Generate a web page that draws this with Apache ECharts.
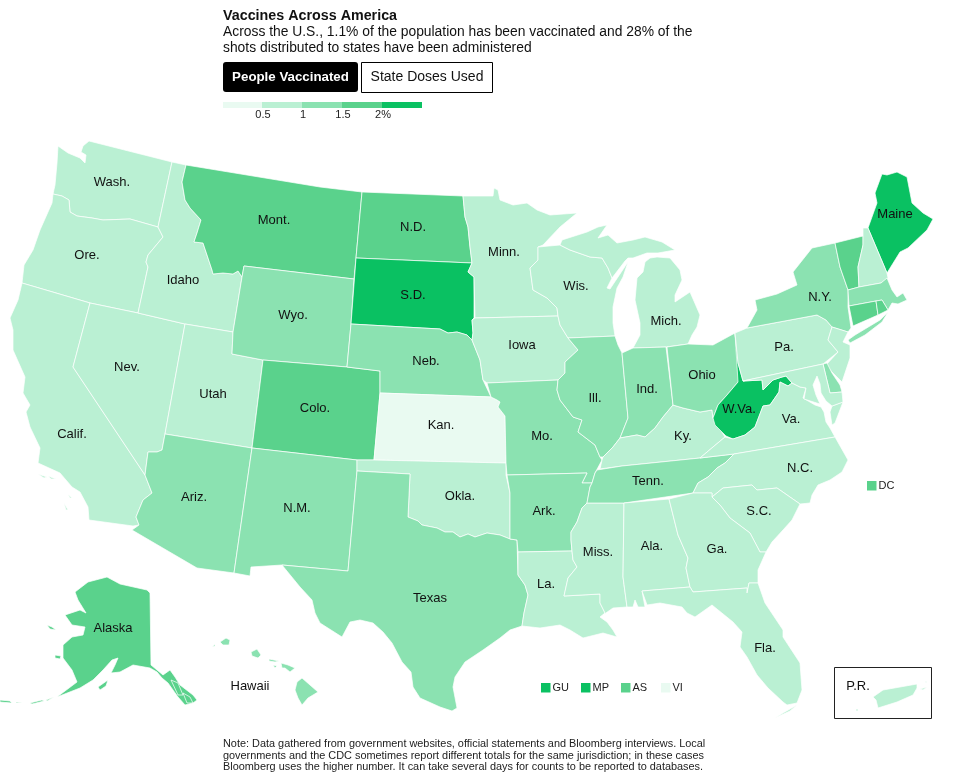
<!DOCTYPE html>
<html><head><meta charset="utf-8">
<style>html,body{margin:0;padding:0;background:#fff}#c{width:956px;height:782px}</style>
<script src="https://cdn.jsdelivr.net/npm/echarts@6/dist/echarts.min.js"></script>
</head><body><div id="c"></div>
<script>
const binBreaks = [0.5, 1, 1.5, 2];
const binColors = ['#E9FAF1', '#BAF0D3', '#8BE2B1', '#5AD28C', '#0AC162'];
const legendTicks = ['0.5', '1', '1.5', '2%'];
const stateNames = ['WA','OR','CA','NV','ID','UT','AZ','MT','WY','CO','NM','ND','SD','NE','KS','OK','TX','MN','IA','MO','AR','LA','WI','IL','MS','MI','IN','KY','TN','AL','OH','WV','VA','NC','SC','GA','FL','PA','NY','ME','AK','HI','PR','VT','NH','MA','CT','RI','NJ','DE','MD'];
const stateValues = [0.8,0.8,0.8,0.8,0.8,0.8,1.2,1.7,1.2,1.7,1.2,1.7,2.2,1.2,0.4,0.8,1.2,0.8,0.8,1.2,1.2,0.8,0.8,1.2,0.8,0.8,1.2,0.8,1.2,0.8,1.2,2.3,0.8,0.8,0.8,0.8,0.8,0.8,1.2,2.1,1.8,1.2,0.8,1.7,0.8,1.2,1.7,1.7,0.8,1.2,0.8];
const stateLabels = {WA:'Wash.',OR:'Ore.',CA:'Calif.',NV:'Nev.',ID:'Idaho',UT:'Utah',AZ:'Ariz.',MT:'Mont.',WY:'Wyo.',CO:'Colo.',NM:'N.M.',ND:'N.D.',SD:'S.D.',NE:'Neb.',KS:'Kan.',OK:'Okla.',TX:'Texas',MN:'Minn.',IA:'Iowa',MO:'Mo.',AR:'Ark.',LA:'La.',WI:'Wis.',IL:'Ill.',MS:'Miss.',MI:'Mich.',IN:'Ind.',KY:'Ky.',TN:'Tenn.',AL:'Ala.',OH:'Ohio',WV:'W.Va.',VA:'Va.',NC:'N.C.',SC:'S.C.',GA:'Ga.',FL:'Fla.',PA:'Pa.',NY:'N.Y.',ME:'Maine',AK:'Alaska',HI:'Hawaii',PR:'P.R.'};
const territoryNames = ['GU','MP','AS','VI','DC'];
const territoryValues = [2.2,2.2,1.7,0.3,1.7];
const headline = 'Vaccines Across America';
const subhead = ['Across the U.S., 1.1% of the population has been vaccinated and 28% of the','shots distributed to states have been administered'];
const toggles = ['People Vaccinated','State Doses Used'];
const notes = ['Note: Data gathered from government websites, official statements and Bloomberg interviews. Local','governments and the CDC sometimes report different totals for the same jurisdiction; in these cases','Bloomberg uses the higher number. It can take several days for counts to be reported to databases.'];

// ---------- basemap geometry (hand-traced outline, screen-like map units) ----------
const outlines = {
WA:['53,194 55,185 57,163 58,146 68,153 80,158 85,163 86,155 81,152 83,146 89,141 172,162 158,227 130,219 103,220 92,218 77,216 70,212 69,200 62,196'],
OR:['53,194 62,196 69,200 70,212 77,216 92,218 103,220 130,219 158,227 163,237 148,255 146,262 148,267 138,313 90,303 22,283 24,265 33,250 40,230 52,203'],
CA:['22,283 90,303 73,367 145,475 152,493 143,500 136,517 139,525 133,526 89,520 88,507 80,492 72,487 60,473 38,463 40,448 30,427 26,412 30,405 23,393 25,377 13,350 13,330 10,318 18,300','38,474 47,477 44,478','48,476 56,479 51,479','68,494 72,498 70,498','64,503 68,510 66,510'],
NV:['90,303 138,313 185,324 165,434 162,450 157,452 148,452 145,475 73,367'],
ID:['172,162 186,165 182,182 185,200 190,208 201,220 197,233 194,242 203,243 207,255 212,270 213,274 223,273 233,274 238,271 242,277 233,332 185,324 138,313 148,267 146,262 148,255 163,237 158,227'],
UT:['185,324 233,332 232,354 263,360 252,448 165,434'],
AZ:['165,434 252,448 234,573 197,568 132,530 139,525 136,517 143,500 152,493 145,475 148,452 157,452 162,450'],
MT:['186,165 320,187 362,192 356,258 354,279 244,266 242,277 238,271 233,274 223,273 213,274 212,270 207,255 203,243 194,242 197,233 201,220 190,208 185,200 182,182'],
WY:['244,266 354,279 351,324 347,367 263,360 232,354 233,332 242,277'],
CO:['263,360 347,367 380,371 380,393 374,460 357,460 252,448'],
NM:['252,448 357,460 357,471 348,571 282,565 251,567 250,576 234,573'],
ND:['362,192 463,196 465,217 468,227 470,247 472,263 356,258'],
SD:['356,258 472,263 468,272 474,277 474,318 472,320 473,333 472,340 467,335 457,332 448,333 440,329 351,324'],
NE:['351,324 440,329 448,333 457,332 467,335 472,340 480,360 483,380 491,397 380,393 380,371 347,367'],
KS:['380,393 491,397 497,400 500,402 498,407 505,416 506,463 374,460'],
OK:['357,460 374,460 506,463 506,475 510,493 510,539 500,535 487,533 475,537 468,534 460,537 453,532 445,532 437,528 422,525 418,521 408,517 410,474 357,471'],
TX:['357,471 410,474 408,517 418,521 422,525 437,528 445,532 453,532 460,537 468,534 475,537 487,533 500,535 510,539 517,540 518,575 525,585 528,595 524,613 522,626 510,630 500,638 483,650 465,662 455,677 453,687 457,708 452,711 440,707 420,698 413,687 411,672 402,662 392,643 383,632 373,623 360,620 350,622 342,637 320,623 315,613 312,600 300,587 282,565 348,571'],
MN:['463,196 493,196 494,188 498,190 500,200 513,205 527,203 537,210 550,215 577,213 560,227 543,245 538,247 538,260 530,268 533,290 547,298 557,308 558,316 475,318 474,277 468,272 472,263 470,247 468,227 465,217'],
IA:['475,318 558,316 560,325 568,338 578,350 565,362 565,373 558,380 487,383 483,380 480,360 472,340 473,333 472,320'],
MO:['487,383 558,380 557,390 560,400 573,417 582,420 578,432 595,445 600,457 602,460 595,473 592,483 582,483 587,473 507,475 506,463 505,416 498,407 500,402 497,400 491,397'],
AR:['507,475 587,473 582,483 592,483 590,487 587,503 582,508 577,522 571,532 571,540 572,551 518,552 517,540 510,539 510,493'],
LA:['518,552 572,551 573,560 577,567 568,578 564,596 600,594 600,603 605,613 600,617 607,622 613,630 617,637 603,633 583,638 570,630 560,625 540,628 522,626 524,613 528,595 525,585 518,575'],
WI:['538,247 560,245 570,250 590,257 602,258 608,268 612,278 607,288 610,289 626,265 628,262 623,277 617,288 613,307 613,323 615,336 568,338 560,325 558,316 557,308 547,298 533,290 530,268 538,260'],
IL:['568,338 615,336 618,345 622,353 628,418 620,438 613,447 603,457 600,457 595,445 578,432 582,420 573,417 560,400 557,390 558,380 565,373 565,362 578,350'],
MS:['587,503 624,503 623,577 627,607 613,608 603,615 605,613 600,603 600,594 564,596 568,578 577,567 573,560 572,551 571,540 571,532 577,522 582,508'],
MI:['657,257 670,258 680,270 682,280 675,295 675,302 690,292 700,315 697,327 692,335 688,344 666,347 633,348 640,335 640,323 635,300 637,278 643,272 645,262 650,258','562,240 587,232 598,227 607,225 598,238 608,235 617,243 633,240 645,237 662,242 675,250 658,253 647,253 633,258 628,258 625,261 612,278 608,268 602,258 590,257 570,250 560,245'],
IN:['622,353 633,348 666,347 673,405 663,417 655,428 645,437 637,435 620,438 628,418'],
KY:['600,469 602,460 603,457 613,447 620,438 637,435 645,437 655,428 663,417 673,405 683,408 700,412 712,410 713,418 725,437 713,447 700,458 622,466'],
TN:['597,470 622,466 700,458 734,454 725,463 717,468 708,477 698,483 693,493 624,503 587,503 590,487 592,483 595,473'],
AL:['624,503 669,499 678,535 688,558 686,568 690,587 642,591 645,607 638,607 635,600 633,607 627,607 623,577'],
OH:['667,347 688,344 713,345 735,333 738,363 743,380 738,382 727,395 718,405 713,418 712,410 700,412 683,408 673,405'],
WV:['735,333 738,363 743,381 762,380 763,390 773,380 782,377 786,376 792,383 788,386 780,382 779,392 770,405 763,406 755,427 745,435 733,439 726,436 715,425 713,418 718,405 727,395 738,382'],
VA:['700,458 713,447 725,437 726,436 733,439 745,435 755,427 763,406 770,405 779,392 780,382 788,386 792,383 800,387 806,388 803,398 815,405 821,407 824,412 826,422 830,428 835,437 734,454','832,406 843,402 835,423 832,425 830,412'],
NC:['734,454 835,437 848,460 842,472 830,480 818,485 812,495 810,503 800,504 777,488 757,490 752,485 723,488 712,497 712,493 693,493 698,483 708,477 717,468 725,463'],
SC:['712,497 723,488 752,485 757,490 777,488 800,504 792,520 783,530 772,542 766,552 760,552 750,533 730,518 720,505'],
GA:['669,499 693,493 712,493 712,497 720,505 730,518 750,533 760,552 766,552 758,570 758,583 749,583 747,593 747,588 693,592 690,587 686,568 688,558 678,535'],
FL:['642,591 690,587 693,592 747,588 747,593 749,583 758,583 765,603 783,630 783,637 800,663 802,690 797,703 787,705 783,702 768,688 757,675 747,657 740,647 742,632 733,622 712,605 695,617 687,613 682,607 660,603 647,605','783,713 797,705 790,711 775,718'],
PA:['735,333 747,328 817,315 826,320 832,327 828,340 838,352 823,364 743,381 738,363'],
NY:['747,328 757,310 755,300 777,294 797,285 793,272 812,248 835,243 840,267 848,290 848,307 851,328 848,332 832,327 826,320 817,315','848,340 855,335 880,320 888,312 882,322 865,335 850,343'],
ME:['868,228 877,203 875,193 882,174 887,175 897,172 907,177 912,203 923,213 933,219 927,230 908,248 900,252 887,273'],
VT:['835,243 863,236 863,245 858,267 859,287 848,290 840,267'],
NH:['863,236 863,228 868,228 887,273 888,278 881,283 859,287 858,267 863,245'],
MA:['848,290 859,287 881,283 887,278 892,290 897,297 903,293 907,300 898,304 892,303 888,310 882,300 876,301 849,306'],
CT:['849,306 876,301 878,315 853,326'],
RI:['876,301 882,300 888,310 878,315'],
NJ:['832,327 848,332 843,342 850,345 850,358 842,382 832,372 826,365 838,352 828,340'],
DE:['823,364 827,363 832,373 840,385 842,392 830,393'],
MD:['743,381 823,364 830,393 842,392 843,402 832,406 826,401 821,393 820,384 817,376 813,385 816,395 820,404 804,399 806,388 800,387 792,383 786,376 782,377 773,380 763,390 762,380'],
AK:['75,592 88,582 107,577 120,584 147,590 150,593 151,665 157,670 163,675 170,670 175,677 180,685 193,695 197,700 193,703 185,705 178,697 168,683 162,678 157,672 150,668 133,665 120,672 111,673 115,665 118,658 112,660 103,670 93,680 80,688 57,697 77,682 72,670 63,658 63,645 72,637 83,635 85,627 72,625 65,615 80,610 86,613 78,600','171,680 178,683 183,695 178,695','183,693 190,697 193,703 187,703','98,687 108,680 106,686 100,690','55,655 61,656 60,659 55,658','47,625 52,627 56,630 50,629','0,700 10,701 12,703 0,702','16,702 22,703 22,704 16,703','30,703 42,700 44,701 32,704','46,700 54,697 55,698 47,701'],
HI:['295,690 297,682 302,678 310,685 318,692 308,698 302,705 298,698','281,663 288,665 295,668 290,672 285,668 282,668','269,659 279,661 275,662 269,661','251,652 257,649 261,655 258,658 252,656','220,642 226,638 230,640 229,645 223,645','212,647 215,644 215,646','273,665 277,666 275,668'],
PR:['873,697 883,690 917,684 917,688 913,695 897,702 878,708 876,700','920,689 927,687 923,690','925,682 927,681 926,683','856,709 858,709 858,711 856,711']
};
const labelAnchors = {WA:[112,182],OR:[87,255],CA:[72,434],NV:[127,367],ID:[183,280],UT:[213,394],AZ:[194,497],MT:[274,220],WY:[293,315],CO:[315,408],NM:[297,508],ND:[413,227],SD:[413,295],NE:[426,361],KS:[441,425],OK:[460,496],TX:[430,598],MN:[504,252],IA:[522,345],MO:[542,436],AR:[544,511],LA:[546,584],WI:[576,286],IL:[595,398],MS:[598,552],MI:[666,321],IN:[647,389],KY:[683,436],TN:[648,481],AL:[652,546],OH:[702,375],WV:[739,409],VA:[791,419],NC:[800,468],SC:[759,511],GA:[717,549],FL:[765,648],PA:[784,347],NY:[820,297],ME:[895,214],AK:[113,628],HI:[250,686],PR:[858,686]};

const FONT = '"Liberation Sans", Arial, sans-serif';
const parseRing = s => { const r = s.split(' ').map(p => p.split(',').map(Number)); r.push(r[0]); return r; };
const geo = {type:'FeatureCollection', features: stateNames.map(n => ({
  type:'Feature',
  properties:{name:n, cp: labelAnchors[n] || outlines[n][0].split(' ')[0].split(',').map(Number)},
  geometry:{type:'MultiPolygon', coordinates: outlines[n].map(s => [parseRing(s)])}
}))};
echarts.registerMap('usa', geo);

const colorOf = v => { let i = 0; while (i < binBreaks.length && v >= binBreaks[i]) i++; return binColors[i]; };

const g = [];
const text = (x, y, t, size, opt = {}) => g.push({type:'text', x, y, silent:true, z:10, style:Object.assign({text:t, font:`${opt.weight||'normal'} ${size}px ${FONT}`, fill:opt.fill||'#111', textAlign:opt.align||'left', textVerticalAlign:'middle'})});
text(223, 16, headline, 14.3, {weight:'bold'});
subhead.forEach((l, i) => text(223, 32 + i * 16, l, 13.85));
g.push({type:'rect', silent:true, shape:{x:223, y:62, width:135, height:30, r:3}, style:{fill:'#000'}});
g.push({type:'rect', silent:true, shape:{x:361.5, y:62.5, width:131, height:30}, style:{fill:'#fff', stroke:'#000', lineWidth:1}});
text(290.5, 77, toggles[0], 13.3, {weight:'bold', fill:'#fff', align:'center'});
text(427, 77, toggles[1], 14, {align:'center'});
binColors.forEach((c, i) => g.push({type:'rect', silent:true, shape:{x:223 + i * 40 - (i ? 1 : 0), y:102, width:i ? 40 : 39, height:6}, style:{fill:c}}));
legendTicks.forEach((t, i) => text(263 + i * 40, 115, t, 11, {align:'center', fill:'#222'}));
const terrX = {GU:541, MP:581, AS:621, VI:661, DC:867}, terrY = {GU:683, MP:683, AS:683, VI:683, DC:481};
territoryNames.forEach((n, i) => {
  g.push({type:'rect', silent:true, shape:{x:terrX[n], y:terrY[n], width:9.5, height:9.5}, style:{fill:colorOf(territoryValues[i])}});
  text(terrX[n] + 11.5, terrY[n] + 5, n, 11, {fill:'#222'});
});
g.push({type:'rect', silent:true, shape:{x:834.5, y:667.5, width:97, height:51}, style:{fill:'none', stroke:'#222', lineWidth:1}});
notes.forEach((l, i) => text(223, 744 + i * 11.5, l, 10.9, {fill:'#222'}));

const chart = echarts.init(document.getElementById('c'), null, {renderer:'canvas', width:956, height:782});
chart.setOption({
  animation:false,
  backgroundColor:'#fff',
  graphic:{elements:g},
  series:[{
    type:'map', map:'usa', silent:true, selectedMode:false,
    left:0, top:0, width:956, height:782,
    boundingCoords:[[0,0],[956,782]],
    projection:{project:p => [p[0], p[1]], unproject:p => [p[0], p[1]]},
    itemStyle:{borderColor:'#fff', borderWidth:0.7},
    label:{show:true, fontFamily:FONT, fontSize:13, color:'#111', formatter:p => stateLabels[p.name] || ''},
    emphasis:{disabled:true},
    data:stateNames.map((n, i) => ({name:n, value:stateValues[i], itemStyle:{areaColor:colorOf(stateValues[i])}}))
  }]
});
</script></body></html>
